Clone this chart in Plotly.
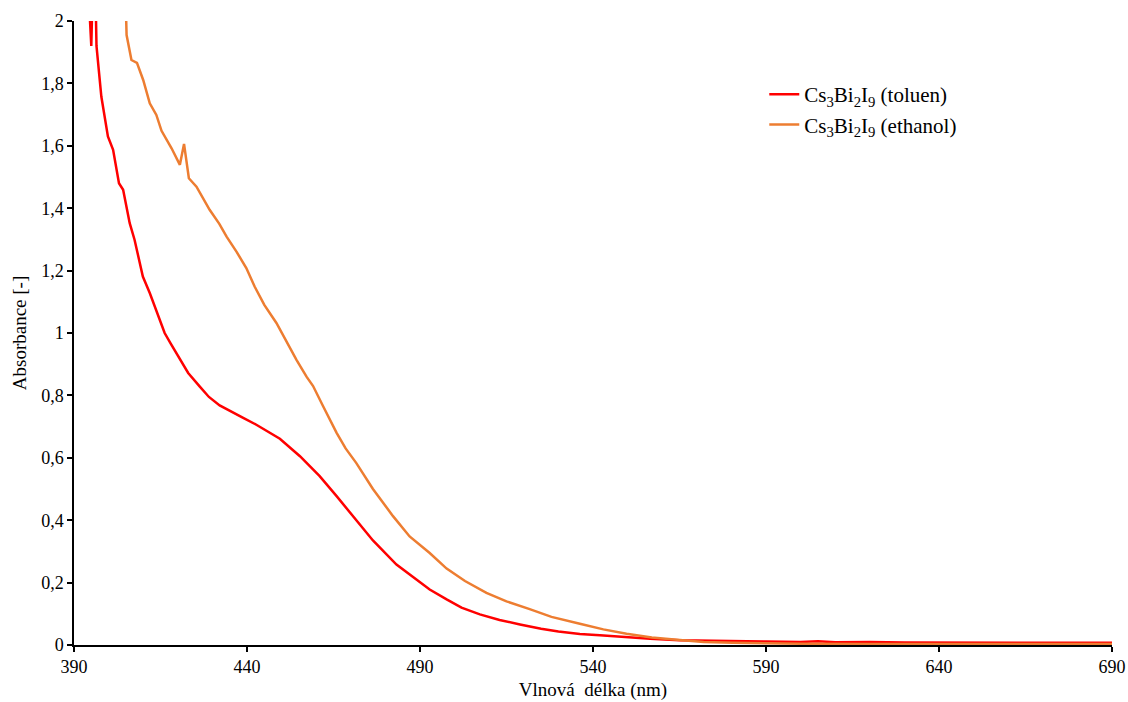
import plotly.graph_objects as go

# Cs3Bi2I9 in toluene (red)
wl_toluen = [393.8, 394.4, 395.0, 395.6, 396.2, 396.5, 397.9, 399.8, 401.3, 403.0, 404.2,
             406.1, 407.5, 409.9, 411.9, 414.3, 416.2, 418.0, 420.1, 423.0, 426.3, 429.0, 432.1,
             435.0, 438.9, 442.7, 446.0, 449.5, 455.3, 461.0, 465.9, 470.7, 476.4, 483.2,
             488.0, 492.8, 497.7, 502.0, 507.3, 513.0, 518.9, 525.0, 530.0, 536.2, 542.0,
             549.7, 556.5, 565.0, 577.0, 590.0, 600.0, 605.0, 610.0, 620.0, 630.0, 640.0,
             660.0, 675.0, 690.0]
abs_toluen = [2.3, 2.05, 1.92, 2.2, 2.1, 1.92, 1.758, 1.63, 1.587, 1.48, 1.459,
              1.352, 1.299, 1.181, 1.128, 1.053, 1.0, 0.965, 0.925, 0.872, 0.829, 0.795, 0.768,
              0.752, 0.728, 0.706, 0.685, 0.661, 0.605, 0.541, 0.477, 0.413, 0.335, 0.258,
              0.218, 0.178, 0.146, 0.12, 0.098, 0.08, 0.066, 0.052, 0.043, 0.035, 0.031,
              0.024, 0.02, 0.015, 0.012, 0.011, 0.01, 0.012, 0.009, 0.01, 0.008, 0.008,
              0.007, 0.007, 0.007]

# Cs3Bi2I9 in ethanol (orange)
wl_ethanol = [404.6, 405.0, 405.2, 406.6, 407.5, 408.2, 410.0, 411.9, 413.8, 415.3, 418.2,
              420.6, 421.8, 423.2, 425.4, 427.3, 429.2, 432.0, 434.1, 437.0, 439.8, 442.2,
              445.0, 448.5, 451.5, 454.3, 457.2, 459.1, 462.0, 465.9, 468.5, 471.6, 476.4,
              482.2, 487.0, 492.8, 497.7, 503.0, 509.2, 515.0, 521.7, 528.0, 536.2, 543.0,
              549.7, 557.0, 565.1, 572.0, 580.4, 590.0, 600.0, 620.0, 640.0, 660.0, 690.0]
abs_ethanol = [2.2, 2.0, 1.955, 1.875, 1.87, 1.866, 1.811, 1.736, 1.699, 1.648, 1.592,
               1.539, 1.606, 1.496, 1.469, 1.432, 1.395, 1.35, 1.309, 1.26, 1.208, 1.149,
               1.09, 1.032, 0.97, 0.914, 0.86, 0.83, 0.765, 0.68, 0.63, 0.583, 0.50,
               0.413, 0.348, 0.295, 0.245, 0.205, 0.167, 0.14, 0.115, 0.09, 0.068, 0.05,
               0.036, 0.024, 0.016, 0.01, 0.007, 0.005, 0.004, 0.003, 0.003, 0.003, 0.003]

x_ticks = [390, 440, 490, 540, 590, 640, 690]
y_ticks = [0, 0.2, 0.4, 0.6, 0.8, 1.0, 1.2, 1.4, 1.6, 1.8, 2.0]

FONT = "Liberation Serif, Times New Roman, serif"

fig = go.Figure()
fig.add_trace(go.Scatter(x=wl_toluen, y=abs_toluen, mode="lines",
                         name="Cs<sub>3</sub>Bi<sub>2</sub>I<sub>9</sub> (toluen)",
                         line=dict(color="#FF0000", width=2.5)))
fig.add_trace(go.Scatter(x=wl_ethanol, y=abs_ethanol, mode="lines",
                         name="Cs<sub>3</sub>Bi<sub>2</sub>I<sub>9</sub> (ethanol)",
                         line=dict(color="#ED7D31", width=2.5)))

axis_common = dict(showgrid=False, zeroline=False, showline=True, linecolor="black",
                   linewidth=1.5, ticks="outside", ticklen=5, tickcolor="black",
                   tickwidth=1.5, automargin=False,
                   tickfont=dict(family=FONT, size=18, color="black"))

fig.update_xaxes(range=[390, 690], tickvals=x_ticks,
                 title=dict(text="Vlnová  délka (nm)", font=dict(family=FONT, size=19, color="black"),
                            standoff=6),
                 **axis_common)
fig.update_yaxes(range=[0, 2], tickvals=y_ticks, tickformat=".1~f",
                 title=dict(text="Absorbance [-]", font=dict(family=FONT, size=19, color="black"),
                            standoff=10),
                 **axis_common)

fig.update_layout(
    width=1128, height=702,
    margin=dict(l=74, r=16, t=21, b=57),
    paper_bgcolor="white", plot_bgcolor="white",
    separators=", ",
    font=dict(family=FONT, size=18, color="black"),
    showlegend=True,
    legend=dict(x=0.665, y=0.915, xanchor="left", yanchor="top",
                bgcolor="rgba(0,0,0,0)", font=dict(family=FONT, size=21, color="black")),
)

fig.write_html("out.html")
